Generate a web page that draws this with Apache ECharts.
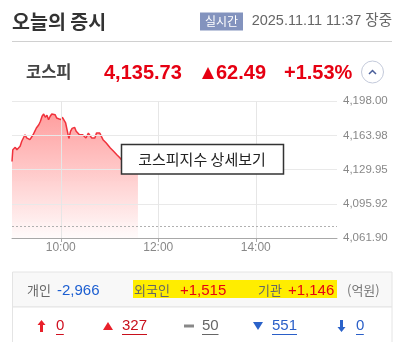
<!DOCTYPE html>
<html><head><meta charset="utf-8">
<script src="https://cdn.jsdelivr.net/npm/echarts@6/dist/echarts.min.js"></script>
<style>html,body{margin:0;padding:0;background:#fff}#c{width:406px;height:342px}</style>
</head><body><div id="c"></div>
<script>
// ---- data ----
const minutes = [0,1,4,6,8,10,12,14,16,18,20,22,24,26,28,30,33,35,37,39,41,43,45,47,49,51,53,55,57,60,62,64,66,68,70,72,74,77,79,81,83,85,87,89,91,94,96,98,100,102,104,106,108,110,112,114,116,118,121,123,125,127,129,131,133,135,137,140,143,146,149,152,155];
const values = [4138.1,4149.8,4152.2,4149.8,4151.5,4153.2,4158.2,4159.8,4164.7,4161.5,4159.8,4159.8,4158.2,4164.7,4168.1,4171.4,4174.7,4178.1,4183.1,4185.4,4182.1,4184.1,4179.7,4183.1,4185.4,4186.4,4184.7,4181.4,4183.1,4179.7,4182.1,4181.4,4176.4,4174.7,4161.0,4168.1,4171.0,4172.1,4168.1,4166.4,4164.7,4166.4,4164.7,4163.1,4161.5,4166.4,4168.1,4161.5,4159.8,4161.5,4166.4,4164.7,4166.4,4163.1,4159.8,4158.2,4156.5,4154.5,4151.5,4149.8,4148.2,4146.5,4144.8,4144.8,4141.5,4139.9,4137.5,4134.8,4136.2,4133.9,4135.1,4134.6,4135.73];
const prevClose = 4073.24;
const yTicks = [4061.90, 4095.92, 4129.95, 4163.98, 4198.00];
const yTickLabels = ['4,061.90','4,095.92','4,129.95','4,163.98','4,198.00'];
const xTicks = [60, 180, 300];
const xTickLabels = ['10:00','12:00','14:00'];
const xMin = 0, xMax = 400;

const title = '오늘의 증시';
const badge = '실시간';
const stamp = '2025.11.11 11:37 장중';
const indexName = '코스피';
const indexValue = '4,135.73';
const indexChange = '62.49';
const indexPct = '+1.53%';
const detailText = '코스피지수 상세보기';
const investors = [
  {name:'개인', val:'-2,966'},
  {name:'외국인', val:'+1,515'},
  {name:'기관', val:'+1,146'}
];
const unit = '(억원)';
const counts = ['0','327','50','551','0'];

const KR = '"Noto Sans CJK KR", sans-serif';
const NUM = '"Liberation Sans", "Noto Sans CJK KR", sans-serif';

const chart = echarts.init(document.getElementById('c'), null, {renderer:'canvas'});
const data = minutes.map((m,i)=>[m, values[i]]);

const gridLines = [];
yTicks.slice(1).forEach(v=>gridLines.push({yAxis:v, lineStyle:{color:'#e9e9e9', width:1, type:'solid'}}));
xTicks.forEach(v=>gridLines.push({xAxis:v, lineStyle:{color:'#e6e6e6', width:1, type:'solid'}}));
gridLines.push({yAxis:prevClose, lineStyle:{color:'#b0b0b0', width:1, type:[2,2]}});

const red = '#e60012';
const g = [];
// header
g.push({type:'text', x:12, y:22, style:{text:title, font:'bold 19.5px '+KR, fill:'#333', verticalAlign:'middle'}});
g.push({type:'rect', shape:{x:200, y:12.5, width:43, height:18}, style:{fill:'#8393be'}});
g.push({type:'text', x:221.5, y:21.5, style:{text:badge, font:'12px '+KR, fill:'#fff', align:'center', verticalAlign:'middle'}});
g.push({type:'text', x:392, y:21, style:{text:stamp, font:'14.5px '+NUM, fill:'#666', align:'right', verticalAlign:'middle'}});
g.push({type:'line', shape:{x1:12, y1:41.5, x2:392, y2:41.5}, style:{stroke:'#d0d0d0', lineWidth:1}});
// index row
g.push({type:'text', x:26, y:72, style:{text:indexName, font:'bold 16.5px '+KR, fill:'#444', verticalAlign:'middle'}});
g.push({type:'text', x:104, y:73, style:{text:indexValue, font:'bold 20px '+NUM, fill:red, verticalAlign:'middle'}});
g.push({type:'polygon', shape:{points:[[202,79],[214,79],[208,67]]}, style:{fill:red}});
g.push({type:'text', x:216, y:73, style:{text:indexChange, font:'bold 20px '+NUM, fill:red, verticalAlign:'middle'}});
g.push({type:'text', x:284, y:73, style:{text:indexPct, font:'bold 20px '+NUM, fill:red, verticalAlign:'middle'}});
g.push({type:'circle', shape:{cx:372.5, cy:72, r:11}, style:{fill:'#fff', stroke:'#c3c9da', lineWidth:1}});
g.push({type:'polyline', shape:{points:[[369,74],[372.5,70.5],[376,74]]}, style:{stroke:'#4a5f9a', lineWidth:1.5, fill:null}});
// detail box
g.push({type:'rect', z:100, shape:{x:121.5, y:144.5, width:162, height:29.5}, style:{fill:'#fff', stroke:'#333', lineWidth:1.5}});
g.push({type:'text', z:101, x:202, y:159.5, style:{text:detailText, font:'15px '+KR, fill:'#222', align:'center', verticalAlign:'middle'}});
// investor box
g.push({type:'rect', shape:{x:12.5, y:272, width:379.5, height:35}, style:{fill:'#f8f8f8', stroke:'#e4e4e4', lineWidth:1}});
g.push({type:'rect', shape:{x:12.5, y:307, width:379.5, height:40}, style:{fill:'#fff', stroke:'#e4e4e4', lineWidth:1}});
g.push({type:'rect', shape:{x:133, y:280, width:204, height:18}, style:{fill:'#ffed00'}});
const rowY = 290;
g.push({type:'text', x:27, y:rowY, style:{text:investors[0].name, font:'13px '+KR, fill:'#666', verticalAlign:'middle'}});
g.push({type:'text', x:57, y:rowY+0.5, style:{text:investors[0].val, font:'15px '+NUM, fill:'#1d5fd1', verticalAlign:'middle'}});
g.push({type:'text', x:134, y:rowY, style:{text:investors[1].name, font:'13px '+KR, fill:'#666', verticalAlign:'middle'}});
g.push({type:'text', x:180, y:rowY+0.5, style:{text:investors[1].val, font:'15px '+NUM, fill:'#e60012', verticalAlign:'middle'}});
g.push({type:'text', x:258, y:rowY, style:{text:investors[2].name, font:'13px '+KR, fill:'#666', verticalAlign:'middle'}});
g.push({type:'text', x:288, y:rowY+0.5, style:{text:investors[2].val, font:'15px '+NUM, fill:'#e60012', verticalAlign:'middle'}});
g.push({type:'text', x:347, y:rowY, style:{text:unit, font:'13px '+KR, fill:'#777', verticalAlign:'middle'}});
// counts row
const cy = 326;
g.push({type:'polygon', shape:{points:[[41.5,320],[37.5,325],[40,325],[40,332],[43,332],[43,325],[45.5,325]]}, style:{fill:'#e8202a'}});
g.push({type:'polygon', shape:{points:[[103,330],[113,330],[108,322]]}, style:{fill:'#e8202a'}});
g.push({type:'rect', shape:{x:184, y:324.5, width:10, height:3}, style:{fill:'#888'}});
g.push({type:'polygon', shape:{points:[[253,322],[263,322],[258,330]]}, style:{fill:'#2a62c9'}});
g.push({type:'polygon', shape:{points:[[341.5,332],[337.5,327],[340,327],[340,320],[343,320],[343,327],[345.5,327]]}, style:{fill:'#2a62c9'}});
const cnt = [
  {x:56, c:'#d01020'}, {x:122, c:'#c8101c'}, {x:202, c:'#666'}, {x:272, c:'#2a5fc8'}, {x:356, c:'#2a5fc8'}
];
const cntW = [7.8, 25, 16.5, 25, 7.8];
cnt.forEach((o,i)=>{
  g.push({type:'text', x:o.x, y:cy, style:{text:counts[i], font:'15px '+NUM, fill:o.c, verticalAlign:'middle'}});
  g.push({type:'line', shape:{x1:o.x, y1:334.5, x2:o.x+cntW[i], y2:334.5}, style:{stroke:o.c, lineWidth:1}});
});

chart.setOption({
  animation:false,
  grid:{left:12, right:69, top:101.3, bottom:104},
  xAxis:{type:'value', min:xMin, max:xMax,
    axisLine:{show:true, lineStyle:{color:'#a8a8a8', width:1}},
    axisTick:{show:true, customValues:xTicks, length:4, lineStyle:{color:'#a8a8a8'}},
    axisLabel:{show:true, customValues:xTicks, margin:4, color:'#888', fontSize:12, fontFamily:NUM,
      formatter:(v)=>{const i=xTicks.indexOf(v); return i>=0?xTickLabels[i]:'';}},
    splitLine:{show:false}},
  yAxis:{type:'value', position:'right', min:yTicks[0], max:yTicks[yTicks.length-1],
    axisLine:{show:false}, axisTick:{show:false}, splitLine:{show:false},
    axisLabel:{show:true, customValues:yTicks, margin:6, color:'#888', fontSize:11.5, fontFamily:NUM,
      formatter:(v)=>{let best=0; yTicks.forEach((t,i)=>{if(Math.abs(t-v)<Math.abs(yTicks[best]-v)) best=i;}); return yTickLabels[best];}}},
  series:[
    {type:'line', data:data, z:1, showSymbol:false, silent:true, lineStyle:{opacity:0},
      markLine:{silent:true, symbol:'none', label:{show:false}, data:gridLines}},
    {type:'line', data:data, z:2, showSymbol:false, smooth:false,
      lineStyle:{color:'#f0323c', width:1.5},
      areaStyle:{color:new echarts.graphic.LinearGradient(0,0,0,1,[
        {offset:0, color:'rgba(255,70,70,0.75)'},
        {offset:1, color:'rgba(255,70,70,0.03)'}])}}
  ],
  graphic:g
});
</script></body></html>
